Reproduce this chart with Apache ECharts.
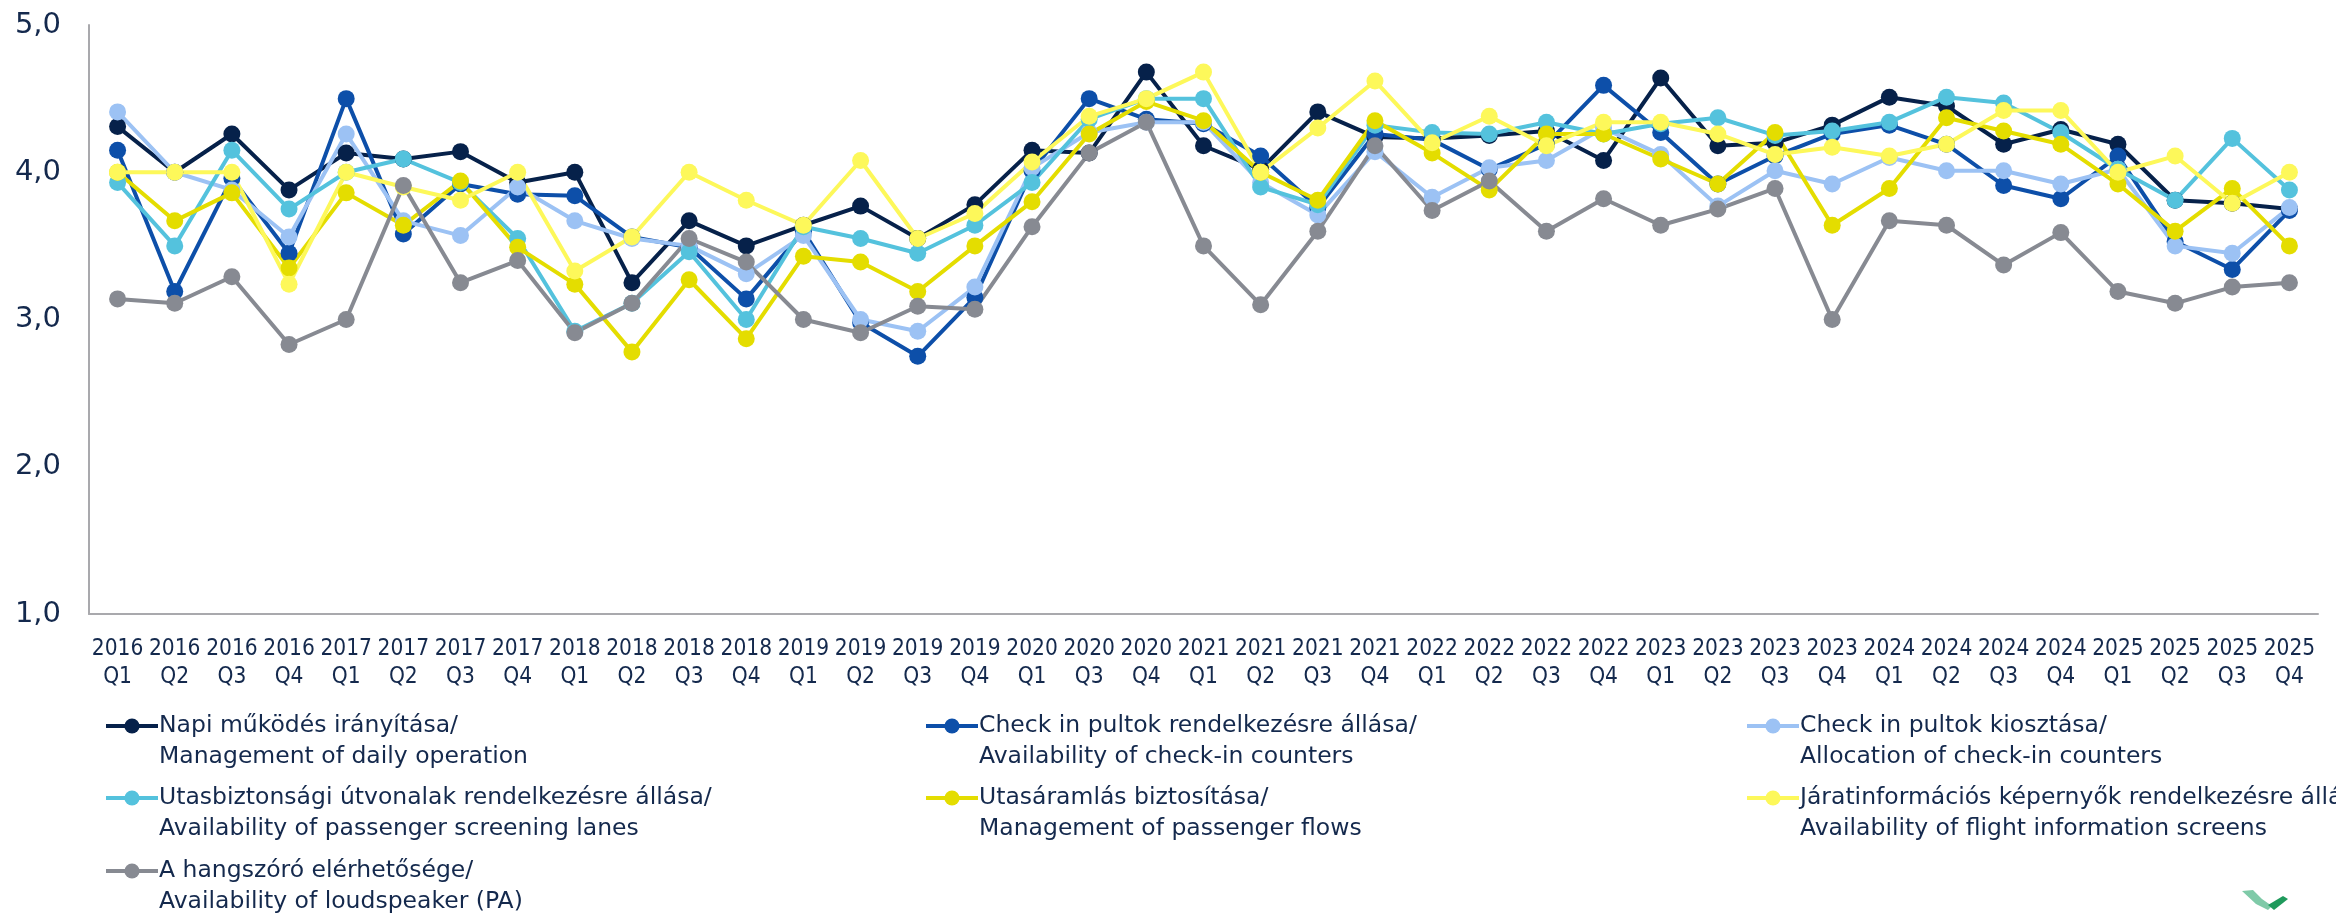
<!DOCTYPE html>
<html>
<head>
<meta charset="utf-8">
<script src="https://cdn.jsdelivr.net/npm/echarts@6/dist/echarts.min.js"></script>
<style>
html,body{margin:0;padding:0;background:#fff;}
#chart{width:2336px;height:914px;}
</style>
</head>
<body>
<div id="chart"></div>
<script>
const categories = [
 '2016\nQ1','2016\nQ2','2016\nQ3','2016\nQ4',
 '2017\nQ1','2017\nQ2','2017\nQ3','2017\nQ4',
 '2018\nQ1','2018\nQ2','2018\nQ3','2018\nQ4',
 '2019\nQ1','2019\nQ2','2019\nQ3','2019\nQ4',
 '2020\nQ1','2020\nQ3','2020\nQ4',
 '2021\nQ1','2021\nQ2','2021\nQ3','2021\nQ4',
 '2022\nQ1','2022\nQ2','2022\nQ3','2022\nQ4',
 '2023\nQ1','2023\nQ2','2023\nQ3','2023\nQ4',
 '2024\nQ1','2024\nQ2','2024\nQ3','2024\nQ4',
 '2025\nQ1','2025\nQ2','2025\nQ3','2025\nQ4'
];

const napiMukodes = [4.31,4.00,4.26,3.88,4.13,4.09,4.14,3.93,4.00,3.25,3.67,3.50,3.64,3.77,3.55,3.78,4.15,4.13,4.68,4.18,4.02,4.41,4.24,4.23,4.25,4.28,4.08,4.64,4.18,4.20,4.32,4.51,4.45,4.19,4.29,4.19,3.81,3.79,3.75];
const checkInRendelkezes = [4.15,3.19,3.96,3.45,4.50,3.58,3.92,3.85,3.84,3.56,3.49,3.14,3.60,2.98,2.75,3.15,4.01,4.50,4.36,4.33,4.11,3.76,4.26,4.22,4.02,4.19,4.59,4.27,3.92,4.11,4.26,4.32,4.19,3.91,3.82,4.11,3.53,3.34,3.74];
const checkInKiosztas = [4.41,4.00,3.88,3.56,4.26,3.67,3.57,3.90,3.67,3.55,3.50,3.31,3.57,3.00,2.92,3.22,4.03,4.27,4.34,4.34,3.93,3.71,4.14,3.83,4.03,4.08,4.30,4.12,3.77,4.01,3.92,4.10,4.01,4.01,3.92,4.02,3.50,3.45,3.76];
const utasbiztonsagi = [3.93,3.50,4.15,3.75,4.00,4.09,3.93,3.55,2.92,3.11,3.46,3.00,3.63,3.55,3.45,3.64,3.93,4.36,4.50,4.50,3.90,3.78,4.32,4.27,4.26,4.34,4.26,4.33,4.37,4.25,4.28,4.34,4.51,4.47,4.27,4.02,3.81,4.23,3.88];
const utasaramlas = [4.00,3.67,3.86,3.35,3.86,3.64,3.94,3.49,3.24,2.78,3.27,2.87,3.43,3.39,3.19,3.50,3.80,4.26,4.48,4.35,4.00,3.81,4.35,4.13,3.88,4.26,4.26,4.09,3.92,4.27,3.64,3.89,4.37,4.28,4.19,3.92,3.60,3.89,3.50];
const jaratinformacios = [4.00,4.00,4.00,3.24,4.00,3.90,3.81,4.00,3.33,3.56,4.00,3.81,3.64,4.08,3.55,3.72,4.07,4.38,4.50,4.68,4.00,4.30,4.62,4.20,4.38,4.18,4.34,4.34,4.26,4.12,4.17,4.11,4.19,4.42,4.42,4.00,4.11,3.79,4.00];
const hangszoro = [3.14,3.11,3.29,2.83,3.00,3.91,3.25,3.40,2.91,3.11,3.55,3.39,3.00,2.91,3.09,3.07,3.63,4.13,4.34,3.50,3.10,3.60,4.18,3.74,3.94,3.60,3.82,3.64,3.75,3.89,3.00,3.67,3.64,3.37,3.59,3.19,3.11,3.22,3.25];

const seriesNames = [
 'Napi működés irányítása/\nManagement of daily operation',
 'Check in pultok rendelkezésre állása/\nAvailability of check-in counters',
 'Check in pultok kiosztása/\nAllocation of check-in counters',
 'Utasbiztonsági útvonalak rendelkezésre állása/\nAvailability of passenger screening lanes',
 'Utasáramlás biztosítása/\nManagement of passenger flows',
 'Járatinformációs képernyők rendelkezésre állása/\nAvailability of flight information screens',
 'A hangszóró elérhetősége/\nAvailability of loudspeaker (PA)'
];
const seriesData = [napiMukodes, checkInRendelkezes, checkInKiosztas, utasbiztonsagi, utasaramlas, jaratinformacios, hangszoro];
const seriesColors = ['#06214a','#0d4fa9','#9cc2f4','#54c2dd','#e4dd00','#fdf85a','#878a92'];

const textColor = '#14294d';
const condensed = '"DejaVu Sans Condensed", "DejaVu Sans", sans-serif';

const series = seriesData.map((d, i) => ({
  name: seriesNames[i],
  type: 'line',
  data: d,
  symbol: 'circle',
  symbolSize: 17,
  showSymbol: true,
  smooth: false,
  lineStyle: { width: 4, color: seriesColors[i] },
  itemStyle: { color: seriesColors[i], borderWidth: 0 },
  emphasis: { disabled: true },
  z: 2
}));

// legend placement: [column x, first-line center y]
const legendPos = [
  [104, 726], [924, 726], [1745, 726],
  [104, 798], [924, 798], [1745, 798],
  [104, 871]
];
const LH = 31;
const legends = seriesNames.map((n, i) => ({
  data: [n],
  orient: 'vertical',
  left: legendPos[i][0],
  top: legendPos[i][1] - LH * 1.5,
  padding: 0,
  itemWidth: 52,
  itemHeight: 19,
  itemGap: 0,
  selectedMode: false,
  lineStyle: { width: 4 },
  formatter: name => '\n' + name,
  textStyle: {
    fontFamily: '"DejaVu Sans", sans-serif',
    fontSize: 23.5,
    color: textColor,
    lineHeight: LH,
    padding: [0, 0, 0, -4]
  }
}));

const chart = echarts.init(document.getElementById('chart'), null, { renderer: 'canvas', width: 2336, height: 914 });
chart.setOption({
  animation: false,
  backgroundColor: '#ffffff',
  color: seriesColors,
  grid: { left: 89, right: 18, top: 25, bottom: 300, containLabel: false, outerBoundsMode: 'none' },
  xAxis: {
    type: 'category',
    data: categories,
    boundaryGap: true,
    axisLine: { show: true, lineStyle: { color: '#a9a9ad', width: 2 } },
    axisTick: { show: false },
    splitLine: { show: false },
    axisLabel: {
      interval: 0,
      margin: 21,
      fontFamily: condensed,
      fontSize: 22.5,
      lineHeight: 28,
      color: textColor
    }
  },
  yAxis: {
    type: 'value',
    min: 1,
    max: 5,
    interval: 1,
    axisLine: { show: true, lineStyle: { color: '#a9a9ad', width: 2 } },
    axisTick: { show: false },
    splitLine: { show: false },
    axisLabel: {
      margin: 28,
      fontFamily: '"DejaVu Sans", sans-serif',
      fontSize: 29,
      color: textColor,
      formatter: v => v.toFixed(1).replace('.', ',')
    }
  },
  legend: legends,
  series: series,
  graphic: [
    {
      type: 'polygon',
      shape: { points: [[2242,891],[2253,890],[2262,899],[2272,906],[2268,910],[2256,904]] },
      style: { fill: '#7fcaa8' },
      silent: true
    },
    {
      type: 'polygon',
      shape: { points: [[2268,905],[2283,896],[2288,899],[2274,910]] },
      style: { fill: '#1f9a5c' },
      silent: true
    }
  ]
});
</script>
</body>
</html>
